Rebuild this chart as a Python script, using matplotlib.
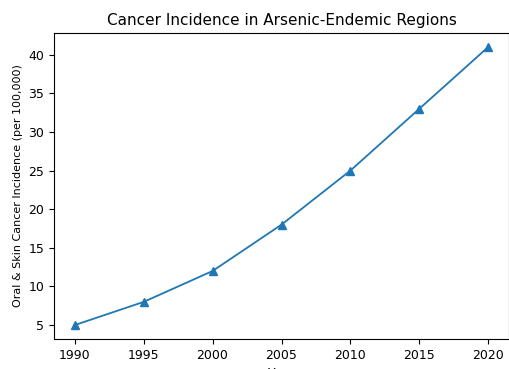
import matplotlib
matplotlib.use("Agg")
import matplotlib.pyplot as plt

years = [1990, 1995, 2000, 2005, 2010, 2015, 2020]
incidence = [5, 8, 12, 18, 25, 33, 41]
year_ticks = [1990, 1995, 2000, 2005, 2010, 2015, 2020]

W, H = 510, 369
fig = plt.figure(figsize=(W / 100, H / 100), dpi=100)
ax = fig.add_axes([54 / W, 1 - 339 / H, (509 - 54) / W, (339 - 33) / H])

ax.plot(years, incidence, marker="^", color="#1f77b4", linewidth=1.3, markersize=6)
ax.set_xticks(year_ticks)
ax.tick_params(labelsize=9)
ax.set_title("Cancer Incidence in Arsenic-Endemic Regions", fontsize=11)
ax.set_xlabel("Year", fontsize=9)
ax.set_ylabel("Oral & Skin Cancer Incidence (per 100,000)", fontsize=8)

fig.savefig("out.png", dpi=100)
